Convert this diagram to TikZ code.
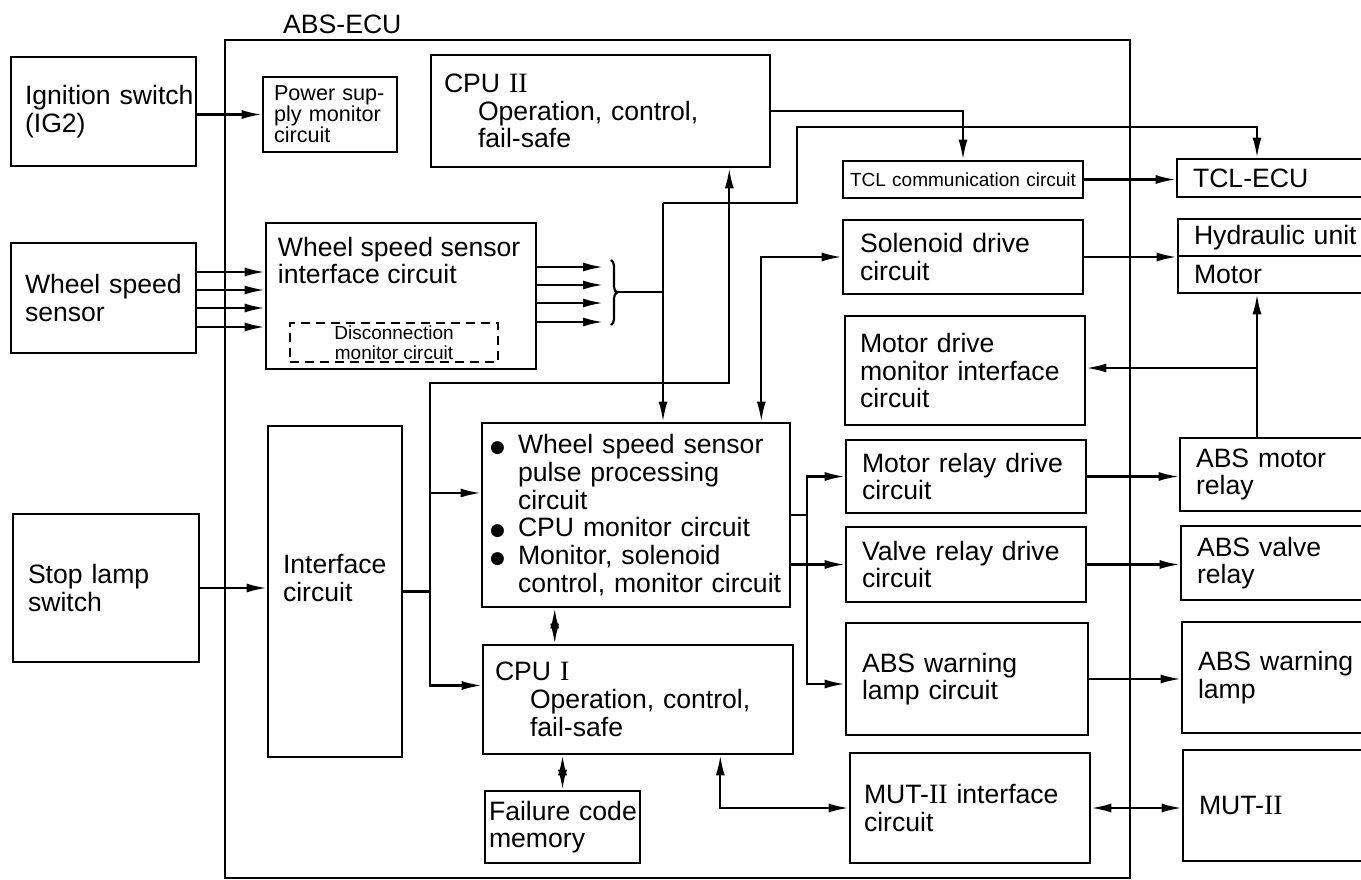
\documentclass[tikz,border=0pt]{standalone}
\usepackage{fontspec}
\setmainfont{Liberation Sans}
\newfontfamily\romfont{Liberation Serif}
\newfontfamily\bulfont{DejaVu Sans}
\usepackage{tikz}
\usetikzlibrary{arrows.meta,positioning,calc,decorations.pathreplacing}

\newcommand{\txtbig}{\fontsize{26.6pt}{27.7pt}\selectfont}
\newcommand{\txtsmall}{\fontsize{21.6pt}{21pt}\selectfont}
\newcommand{\txttiny}{\fontsize{19pt}{20pt}\selectfont}
\newcommand{\rmnum}[1]{{\romfont\fontsize{28pt}{27.7pt}\selectfont #1}}
\newcommand{\bul}{\makebox[28pt][l]{\raisebox{1pt}{\bulfont\fontsize{17pt}{17pt}\selectfont ●}}}
\hyphenpenalty=10000
\exhyphenpenalty=10000

\begin{document}
\begin{tikzpicture}[x=1pt, y=-1pt,
    >={Latex[length=20pt,width=9pt]},
    blk/.style={draw, line width=2.6pt, align=left, font=\txtbig, inner ysep=0pt},
    ecubox/.style={draw, line width=2.2pt, inner sep=0pt},
    dashbox/.style={draw, line width=2pt, dash pattern=on 9pt off 6pt, align=center, inner sep=0pt, font=\txttiny},
    flow/.style={->, line width=2.2pt},
    biflow/.style={<->, line width=2.2pt},
    wire/.style={line width=2.2pt}
]
    \useasboundingbox (0,0) rectangle (1361,880);
    \clip (0,0) rectangle (1361,880);

    % ECU frame
    \node[ecubox, minimum width=905pt, minimum height=838pt] (ecu) at (677.5,459) {};
    \node[anchor=west, inner sep=0pt, font=\txtbig] (ecuname) at (283,24) {ABS-ECU};

    % Inputs
    \node[blk, minimum width=185pt, minimum height=109pt, inner xsep=14pt, text width=157pt] (ign) at (103.5,111.5) {\mbox{Ignition switch}\\(IG2)};
    \node[blk, minimum width=185pt, minimum height=110pt, inner xsep=14pt, text width=157pt] (wss) at (103.5,298) {\mbox{Wheel speed}\\sensor};
    \node[blk, minimum width=186pt, minimum height=148pt, inner xsep=15pt, text width=156pt] (stop) at (106,588) {Stop lamp\\switch};

    % ECU blocks, left part
    \node[blk, minimum width=134pt, minimum height=75pt, inner xsep=11pt, text width=112pt, font=\txtsmall] (psu) at (330,114.5) {\mbox{Power sup-}\\\mbox{ply monitor}\\circuit};
    \node[blk, minimum width=339pt, minimum height=112pt, inner xsep=13pt, text width=313pt] (cpu2) at (600.5,111) {CPU \rmnum{II}\\\hspace*{34pt}Operation, control,\\\hspace*{34pt}fail-safe};
    \node[blk, minimum width=270pt, minimum height=146pt] (wssif) at (401,296) {};
    \node[anchor=north west, align=left, inner sep=0pt, font=\txtbig] (wssift) at ([shift={(13pt,-15pt)}]wssif.north west) {Wheel speed sensor\\interface circuit};
    \node[dashbox, minimum width=208pt, minimum height=39pt] (disc) at (394,342.5) {Disconnection\\monitor circuit};
    \node[blk, minimum width=134pt, minimum height=331pt, inner xsep=15pt, text width=104pt] (intf) at (335,591.5) {\mbox{Interface}\\circuit\\\mbox{}};
    \node[blk, minimum width=308pt, minimum height=184pt, inner xsep=8pt, text width=292pt] (proc) at (636,515) {\bul\mbox{Wheel speed sensor}\\\hspace*{28pt}pulse processing\\\hspace*{28pt}circuit\\\bul\mbox{CPU monitor circuit}\\\bul Monitor, solenoid\\\hspace*{28pt}\mbox{control, monitor circuit}};
    \node[blk, minimum width=310pt, minimum height=109pt, inner xsep=12pt, text width=286pt] (cpu1) at (638,699.5) {CPU \rmnum{I}\\\hspace*{35pt}Operation, control,\\\hspace*{35pt}fail-safe};
    \node[blk, minimum width=155pt, minimum height=72pt, inner xsep=4pt, text width=147pt] (fcm) at (562.5,827) {\mbox{Failure code}\\memory};

    % ECU blocks, right part
    \node[blk, minimum width=240pt, minimum height=37pt, inner xsep=7pt, text width=226pt, font=\txttiny] (tclc) at (963,179.5) {\mbox{TCL communication circuit}};
    \node[blk, minimum width=240pt, minimum height=74pt, inner xsep=17pt, text width=206pt] (sol) at (963,257) {Solenoid drive\\circuit};
    \node[blk, minimum width=240pt, minimum height=109pt, inner xsep=15pt, text width=210pt] (mdm) at (965,370.5) {Motor drive\\\mbox{monitor interface}\\circuit};
    \node[blk, minimum width=240pt, minimum height=73pt, inner xsep=16pt, text width=208pt] (mrd) at (966,476.5) {\mbox{Motor relay drive}\\circuit};
    \node[blk, minimum width=240pt, minimum height=75pt, inner xsep=16pt, text width=208pt] (vrd) at (966,564.5) {\mbox{Valve relay drive}\\circuit};
    \node[blk, minimum width=242pt, minimum height=112pt, inner xsep=16pt, text width=210pt] (awc) at (967,679) {ABS warning\\lamp circuit};
    \node[blk, minimum width=240pt, minimum height=110pt, inner xsep=14pt, text width=212pt] (muti) at (970,808) {\mbox{MUT-\rmnum{II} interface}\\circuit};

    % Outside outputs
    \node[blk, minimum width=198pt, minimum height=38pt, inner xsep=16pt, text width=166pt] (tclecu) at (1276,178) {TCL-ECU};
    \node[blk, minimum width=197pt, minimum height=37pt, inner xsep=16pt, text width=165pt] (hyd) at (1276.5,237.5) {\mbox{Hydraulic unit}};
    \node[blk, minimum width=197pt, minimum height=37pt, inner xsep=16pt, text width=165pt] (motor) at (1276.5,274.5) {Motor};
    \node[blk, minimum width=195pt, minimum height=73pt, inner xsep=16pt, text width=163pt] (amr) at (1277.5,474.5) {ABS motor\\relay};
    \node[blk, minimum width=194pt, minimum height=74pt, inner xsep=16pt, text width=162pt] (avr) at (1278,563) {ABS valve\\relay};
    \node[blk, minimum width=193pt, minimum height=111pt, inner xsep=16pt, text width=161pt] (awl) at (1278.5,677.5) {\mbox{ABS warning}\\lamp};
    \node[blk, minimum width=192pt, minimum height=111pt, inner xsep=16pt, text width=160pt] (mut) at (1279,805.5) {MUT-\rmnum{II}};

    % Junctions
    \coordinate (j1) at (663,203);
    \coordinate (j2) at (797,127);
    \coordinate (lb) at (430,383);
    \coordinate (pj) at (807,515);
    \coordinate (rbus) at (1257,368);
    \coordinate (brt) at (611,260);
    \coordinate (brb) at (611,325);
    \coordinate (brc) at (617,292);

    % Wheel speed signals
    \foreach \yy in {272,290,308,327}
        \draw[flow] (wss.east |- 0,\yy) -- (wssif.west |- 0,\yy);
    \foreach \yy [count=\i] in {267,285,303,322} {
        \coordinate (wo\i) at (603,\yy);
        \draw[flow] (wssif.east |- wo\i) -- (wo\i);
    }
    \draw[wire, decorate, decoration={brace, amplitude=6pt}] (brt) -- (brb);
    \draw[wire] (brc) -- (brc -| j1);
    \draw[flow] (j1) -- (j1 |- proc.north);
    \draw[flow] (j1) -| (j2) -| (rbus |- tclecu.north);

    % Arrows
    \draw[flow] (ign.east |- psu) -- (psu.west);
    \draw[flow] (cpu2.east) -| (tclc.north);
    \draw[flow] (tclc.east) -- (tclc.east -| tclecu.west);
    \draw[flow] (sol.east) -- (sol.east -| hyd.west);
    \draw[biflow] (sol.west) -| ([xshift=-30pt]proc.north east);
    \draw[flow] (stop.east) -- (stop.east -| intf.west);
    \draw[wire] (intf.east) -- (intf.east -| lb);
    \draw[biflow] ([yshift=14pt]cpu1.west) -| (lb) -| ([xshift=-42pt]cpu2.south east);
    \draw[flow] ([yshift=22pt]proc.west -| lb) -- ([yshift=22pt]proc.west);
    \draw[biflow] ([xshift=74pt]proc.south west) -- ([xshift=74pt]proc.south west |- cpu1.north);
    \draw[biflow] (fcm.north) -- (fcm.north |- cpu1.south);
    \draw[biflow] ([xshift=-74pt]cpu1.south east) |- (muti.west);
    \draw[biflow] (muti.east) -- (muti.east -| mut.west);

    % Drive outputs
    \draw[wire] (proc.east |- pj) -- (pj);
    \draw[flow] (pj) |- (mrd.west);
    \draw[flow] (pj) |- ([yshift=-5pt]awc.west);
    \draw[flow] (proc.east |- vrd.west) -- (vrd.west);
    \draw[flow] (mrd.east) -- (mrd.east -| amr.west);
    \draw[flow] (vrd.east) -- (vrd.east -| avr.west);
    \draw[flow] (awc.east) -- (awc.east -| awl.west);
    \draw[flow] (rbus |- amr.north) -- (rbus |- motor.south);
    \draw[flow] (rbus) -- (rbus -| mdm.east);
\end{tikzpicture}
\end{document}
